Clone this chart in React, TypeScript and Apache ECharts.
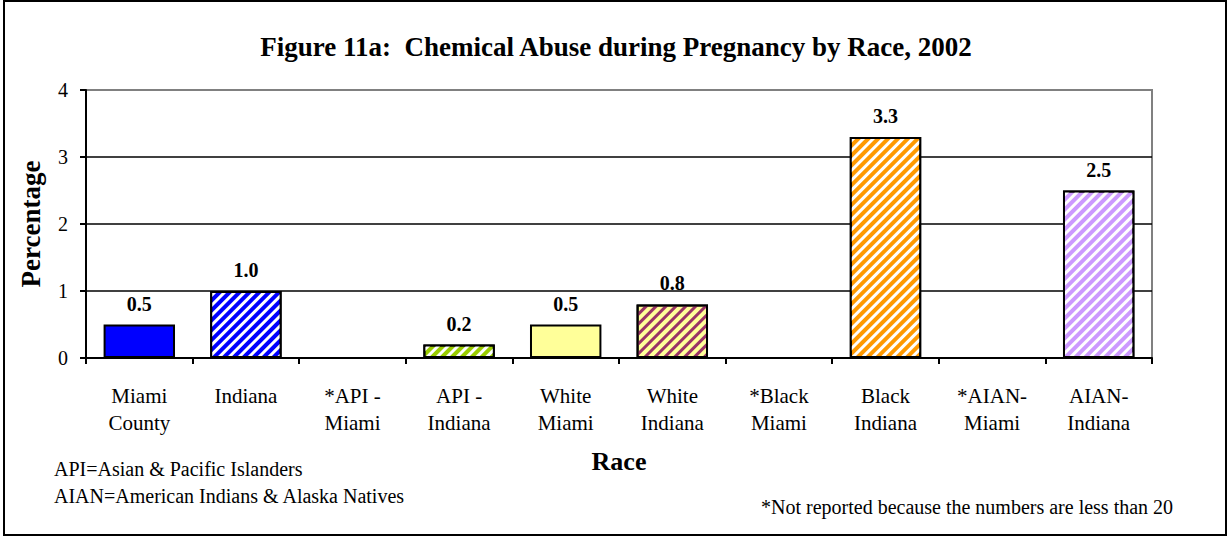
import React, { useEffect, useRef } from "react";
import * as echarts from "echarts";

const categories = [
  "Miami\nCounty",
  "Indiana",
  "*API -\nMiami",
  "API -\nIndiana",
  "White\nMiami",
  "White\nIndiana",
  "*Black\nMiami",
  "Black\nIndiana",
  "*AIAN-\nMiami",
  "AIAN-\nIndiana",
];
const values: (number | null)[] = [0.5, 1.0, null, 0.2, 0.5, 0.8, null, 3.3, null, 2.5];
const fillColors = ["#0000FF", "#0000FF", "#99CC00", "#99CC00", "#FFFF99", "#FFFF99", "#FF9900", "#FF9900", "#CC99FF", "#CC99FF"];
const stripeColors: (string | null)[] = [null, "#FFFFFF", null, "#FFFFFF", null, "#993366", null, "#FFFFFF", null, "#FFFFFF"];
const yTicks = [0, 1, 2, 3, 4];

const FONT = "'Liberation Serif', 'Times New Roman', serif";

export default function App() {
  const ref = useRef<HTMLDivElement>(null);
  useEffect(() => {
    document.body.style.margin = "0";
    const chart = echarts.init(ref.current!, null, { renderer: "svg" });
    const data = values.map((v, i) => {
      if (v === null) return { value: null };
      const item: any = {
        value: v,
        itemStyle: {
          color: fillColors[i],
          borderColor: "#000",
          borderWidth: 2,
        },
      };
      if (stripeColors[i]) {
        item.itemStyle.decal = {
          symbol: "rect",
          symbolSize: 1,
          color: stripeColors[i],
          dashArrayX: [1, 0],
          dashArrayY: [3, 4],
          rotation: -Math.PI / 4,
        };
      }
      return item;
    });
    chart.setOption({
      animation: false,
      aria: { enabled: false, decal: { show: true } },
      title: {
        text: "Figure 11a:  Chemical Abuse during Pregnancy by Race, 2002",
        left: "center",
        top: 28,
        textStyle: { fontFamily: FONT, fontSize: 27, fontWeight: "bold", color: "#000" },
      },
      grid: {
        left: 86,
        right: 80,
        top: 90,
        bottom: 179,
        show: true,
        borderColor: "#808080",
        borderWidth: 2,
        backgroundColor: "transparent",
      },
      graphic: [
        {
          type: "rect",
          shape: { x: 4, y: 1, width: 1222, height: 534 },
          style: { fill: "none", stroke: "#000", lineWidth: 2 },
          silent: true,
        },
        {
          type: "text",
          left: 54,
          top: 459,
          style: {
            text: "API=Asian & Pacific Islanders",
            font: `20px ${FONT}`,
            fill: "#000",
          },
        },
        {
          type: "text",
          left: 54,
          top: 486,
          style: {
            text: "AIAN=American Indians & Alaska Natives",
            font: `20px ${FONT}`,
            fill: "#000",
          },
        },
        {
          type: "text",
          left: 761,
          top: 497,
          style: {
            text: "*Not reported because the numbers are less than 20",
            font: `20px ${FONT}`,
            fill: "#000",
          },
        },
      ],
      xAxis: {
        type: "category",
        data: categories,
        name: "Race",
        nameLocation: "middle",
        nameGap: 90,
        nameTextStyle: { fontFamily: FONT, fontSize: 26, fontWeight: "bold", color: "#000" },
        axisLine: { lineStyle: { color: "#000", width: 2 } },
        axisTick: { show: true, inside: false, length: 6, lineStyle: { color: "#000", width: 2 } },
        axisLabel: {
          fontFamily: FONT,
          fontSize: 21,
          color: "#000",
          lineHeight: 27,
          margin: 24,
          interval: 0,
        },
      },
      yAxis: {
        type: "value",
        min: 0,
        max: 4,
        interval: 1,
        name: "Percentage",
        nameLocation: "middle",
        nameGap: 42,
        nameTextStyle: { fontFamily: FONT, fontSize: 27, fontWeight: "bold", color: "#000" },
        axisLine: { show: true, lineStyle: { color: "#000", width: 2 } },
        axisTick: { show: true, length: 6, lineStyle: { color: "#000", width: 2 } },
        axisLabel: {
          fontFamily: FONT,
          fontSize: 20,
          color: "#000",
          margin: 18,
          formatter: (v: number) => (yTicks.includes(v) ? String(v) : ""),
        },
        splitLine: { show: true, lineStyle: { color: ["#000", "#000", "#000", "#000", "#808080"], width: 1.5 } },
      },
      series: [
        {
          type: "bar",
          data,
          barWidth: "67%",
          label: {
            show: true,
            position: "top",
            distance: 11,
            fontFamily: FONT,
            fontSize: 20,
            fontWeight: "bold",
            color: "#000",
            formatter: (p: any) => (p.value == null ? "" : Number(p.value).toFixed(1)),
          },
        },
      ],
    });
    return () => chart.dispose();
  }, []);
  return <div ref={ref} style={{ width: 1232, height: 537 }} />;
}
